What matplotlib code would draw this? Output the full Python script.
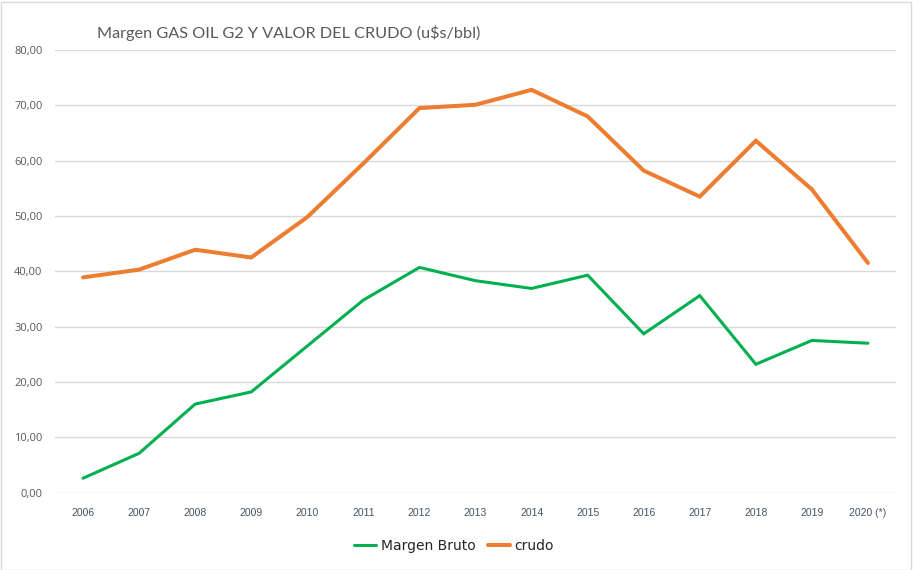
import matplotlib
matplotlib.use("Agg")
import matplotlib.pyplot as plt
from matplotlib.patches import Rectangle

years = ["2006", "2007", "2008", "2009", "2010", "2011", "2012", "2013",
         "2014", "2015", "2016", "2017", "2018", "2019", "2020 (*)"]
margen_bruto = [2.6, 7.1, 16.0, 18.2, 26.5, 34.8, 40.7, 38.3, 36.9, 39.3,
                28.7, 35.6, 23.2, 27.5, 27.0]
crudo = [38.9, 40.3, 43.9, 42.5, 49.8, 59.5, 69.5, 70.1, 72.8, 68.0,
         58.2, 53.5, 63.6, 54.8, 41.5]
yticks = [0, 10, 20, 30, 40, 50, 60, 70, 80]

W, H = 913, 570
fig = plt.figure(figsize=(W / 100, H / 100), dpi=100)
fig.patch.set_facecolor("white")

# outer border
fig.add_artist(Rectangle((0.5 / W, 0.5 / H), 1 - 2.5 / W, 1 - 2.5 / H,
                         transform=fig.transFigure, fill=False,
                         edgecolor="#D9D9D9", linewidth=1.0))

left, right, top, bottom = 55, 896, 50, 492.6
ax = fig.add_axes([left / W, 1 - bottom / H, (right - left) / W, (bottom - top) / H])

x = list(range(len(years)))
ax.plot(x, margen_bruto, color="#00B050", linewidth=2.2, label="Margen Bruto",
        solid_capstyle="round", solid_joinstyle="miter", zorder=3)
ax.plot(x, crudo, color="#ED7D31", linewidth=2.9, label="crudo",
        solid_capstyle="round", solid_joinstyle="miter", zorder=3)

ax.set_xlim(-0.5, len(years) - 0.5)
ax.set_ylim(0, 80)
ax.set_yticks(yticks)
ax.set_yticklabels([f"{v:.2f}".replace(".", ",") for v in yticks],
                   fontsize=8, color="#595959", family=["Open Sans", "DejaVu Sans"])
ax.set_xticks(x)
ax.set_xticklabels(years, fontsize=7.5, color="#44546A",
                   family=["Liberation Sans Narrow", "Liberation Sans", "DejaVu Sans"])
ax.tick_params(axis="both", length=0)
ax.tick_params(axis="y", pad=9)
ax.tick_params(axis="x", pad=11)
ax.grid(axis="y", color="#D9D9D9", linewidth=1.0, zorder=0)
ax.set_axisbelow(True)
for s in ax.spines.values():
    s.set_visible(False)

fig.text(97 / W, 1 - 33 / H, "Margen GAS OIL G2 Y VALOR DEL CRUDO (u$s/bbl)",
         fontsize=11.7, color="#595959", ha="left", va="center",
         family=["Lato", "DejaVu Sans"])

leg = fig.legend(loc="center", bbox_to_anchor=(454 / W, 1 - 546 / H), ncol=2,
                 frameon=False, handlelength=1.6, handletextpad=0.3,
                 columnspacing=0.9,
                 prop={"family": ["Liberation Sans Narrow", "DejaVu Sans"], "size": 10})
for t in leg.get_texts():
    t.set_color("#262626")

fig.savefig("out.png", dpi=100, facecolor="white")
